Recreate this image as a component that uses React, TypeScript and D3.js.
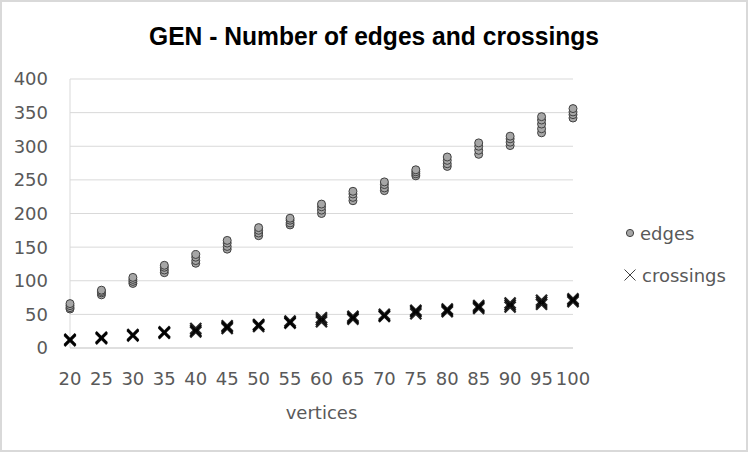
import React from "react";
import * as d3 from "d3";

const vertices = [20, 25, 30, 35, 40, 45, 50, 55, 60, 65, 70, 75, 80, 85, 90, 95, 100];

const edges: number[][] = [
  [58, 60, 63, 66],
  [79, 82, 84, 86],
  [96, 99, 102, 105],
  [112, 116, 120, 123],
  [126, 130, 135, 139],
  [147, 151, 156, 160],
  [167, 171, 175, 179],
  [183, 186, 190, 193],
  [200, 205, 210, 214],
  [219, 224, 229, 233],
  [234, 238, 243, 247],
  [256, 259, 262, 265],
  [270, 274, 279, 284],
  [288, 294, 300, 305],
  [301, 306, 311, 315],
  [320, 326, 333, 339, 344],
  [342, 347, 351, 356],
];

const crossings: number[][] = [
  [11, 12, 13],
  [14, 15, 16],
  [18, 19, 20],
  [22, 23, 24],
  [24, 26, 29],
  [29, 31, 33],
  [32, 34, 35],
  [37, 38, 40],
  [39, 42, 45],
  [43, 45, 47],
  [47, 48, 50],
  [51, 54, 56],
  [54, 56, 58],
  [59, 61, 63],
  [61, 64, 67],
  [65, 68, 71],
  [69, 71, 73],
];

const yTicks = [0, 50, 100, 150, 200, 250, 300, 350, 400];

const W = 749;
const H = 453;
const FONT = "'DejaVu Sans', 'Liberation Sans', sans-serif";
const TEXT = "#595959";

export default function App() {
  const x = d3.scalePoint<number>().domain(vertices).range([70, 573]);
  const y = d3.scaleLinear().domain([0, 400]).range([348, 79]);
  const x0 = 70;
  const x1 = 573;

  const crossPath = (cx: number, cy: number, s: number) =>
    `M${cx - s},${cy - s}L${cx + s},${cy + s}M${cx - s},${cy + s}L${cx + s},${cy - s}`;

  return (
    <svg
      width={W}
      height={H}
      style={{ position: "absolute", left: 0, top: 0, background: "#fff" }}
    >
      <rect x={1} y={1} width={746} height={450} fill="#fff" stroke="#d9d9d9" strokeWidth={2} />
      <text
        x={374}
        y={45}
        textAnchor="middle"
        fontFamily="'Liberation Sans', Arial, sans-serif"
        fontWeight="bold"
        fontSize={25}
        textLength={450}
        lengthAdjust="spacingAndGlyphs"
        fill="#000"
      >
        GEN - Number of edges and crossings
      </text>

      {yTicks.map((t) => (
        <g key={t}>
          {t > 0 && (
            <line x1={x0} x2={x1} y1={y(t)} y2={y(t)} stroke="#d9d9d9" strokeWidth={1} />
          )}
          <text
            x={48}
            y={y(t)}
            dy="0.36em"
            textAnchor="end"
            fontFamily={FONT}
            fontSize={18}
            fill={TEXT}
          >
            {t}
          </text>
        </g>
      ))}
      <line x1={x0} x2={x0} y1={y(400)} y2={y(0)} stroke="#d9d9d9" strokeWidth={1} />
      <line x1={x0} x2={x1} y1={y(0)} y2={y(0)} stroke="#bfbfbf" strokeWidth={1} />

      {vertices.map((v) => (
        <text
          key={v}
          x={x(v)}
          y={385}
          textAnchor="middle"
          fontFamily={FONT}
          fontSize={18}
          fill={TEXT}
        >
          {v}
        </text>
      ))}
      <text x={(x0 + x1) / 2} y={419} textAnchor="middle" fontFamily={FONT} fontSize={18} fill={TEXT}>
        vertices
      </text>

      {edges.map((vals, i) =>
        vals.map((val, j) => (
          <circle
            key={`e${i}-${j}`}
            cx={x(vertices[i])}
            cy={y(val)}
            r={4}
            fill="#a6a6a6"
            stroke="#404040"
            strokeWidth={1}
          />
        ))
      )}
      {crossings.map((vals, i) =>
        vals.map((val, j) => (
          <path
            key={`c${i}-${j}`}
            d={crossPath(x(vertices[i]) as number, y(val), 5.5)}
            stroke="#000"
            strokeOpacity={0.85}
            strokeWidth={2.3}
            fill="none"
          />
        ))
      )}

      <circle cx={630} cy={233} r={3.6} fill="#a6a6a6" stroke="#404040" strokeWidth={1} />
      <text x={640} y={240} fontFamily={FONT} fontSize={18} fill={TEXT}>
        edges
      </text>
      <path d={crossPath(630, 275, 5.5)} stroke="#404040" strokeWidth={1} fill="none" />
      <text x={642} y={282} fontFamily={FONT} fontSize={18} fill={TEXT}>
        crossings
      </text>
    </svg>
  );
}
